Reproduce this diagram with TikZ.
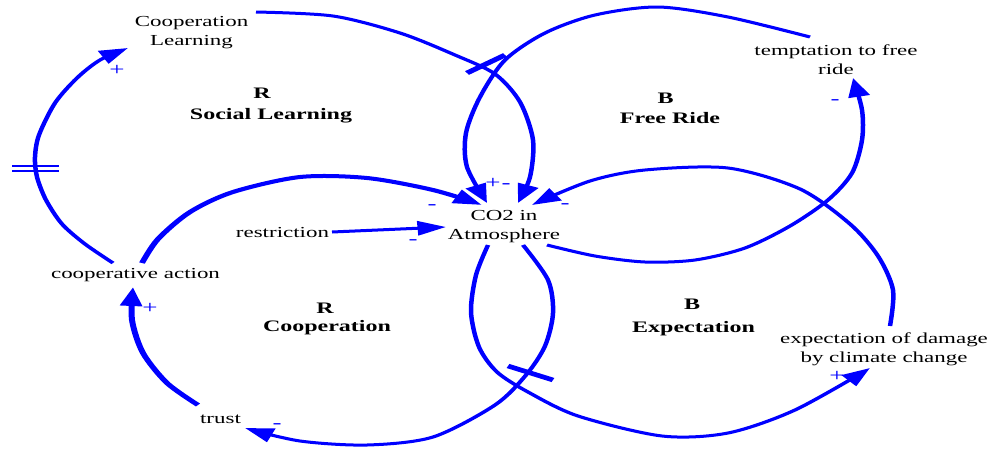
\documentclass[tikz,border=0pt]{standalone}
\usepackage{fontspec}
\setmainfont{Liberation Serif}
\usetikzlibrary{arrows.meta,calc}
\definecolor{vblue}{RGB}{0,0,255}
\tikzset{
  link/.style={draw=vblue, line width=3pt},
  thicklink/.style={draw=vblue, line width=4pt},
  arr/.style={-{Triangle[length=19pt,width=14pt]}},
  txt/.style={font=\fontsize{15.3}{19}\selectfont, text=black, inner sep=0pt},
  txtml/.style={txt, align=center},
  loopl/.style={font=\bfseries\fontsize{16}{20}\selectfont, text=black, inner sep=0pt, anchor=base},
  pol/.style={font=\fontsize{18}{20}\selectfont, text=vblue, inner sep=0pt},
  delaybar/.style={draw=vblue, line width=4.5pt},
  dbar/.style={draw=vblue, line width=2.3pt},
}
\begin{document}
\begin{tikzpicture}
\useasboundingbox (0,0) rectangle (995pt,-453pt);
\begin{scope}[transform canvas={xscale=1.5}, x=0.666667pt, y=-1pt]
% variables
\node[txtml] (cl) at (191.5,33) {Cooperation\\Learning};
\node[txtml] (tf) at (836,59.3) {temptation to free\\ride};
\node[txtml] (co2) at (504,227) {CO2 in\\Atmosphere};
\node[txt, anchor=base] (re) at (282.5,237) {restriction};
\node[txt, anchor=base] (ca) at (135.5,278) {cooperative action};
\node[txt, anchor=base] (tr) at (220.5,423) {trust};
\node[txtml] (ed) at (884,349) {expectation of damage\\by climate change};
% loop labels
\node[loopl] (slR) at (262,98) {R};
\node[loopl] (sl) at (271,119) {Social Learning};
\node[loopl] (frB) at (665.5,103) {B};
\node[loopl] (fr) at (670,123) {Free Ride};
\node[loopl] (coR) at (325,313) {R};
\node[loopl] (co) at (327,331) {Cooperation};
\node[loopl] (exB) at (692,309) {B};
\node[loopl] (ex) at (693.5,332) {Expectation};
% connector ends
\coordinate (c1s) at ($(ca.base)+(-22.5,-15)$);
\coordinate (c1e) at ($(cl.center)+(-63.5,15)$);
\coordinate (c2s) at ($(cl.center)+(64.5,-21)$);
\coordinate (c2e) at ($(co2.center)+(14,-24)$);
\coordinate (c3s) at ($(tf.center)+(-26,-22.3)$);
\coordinate (c3e) at ($(co2.center)+(-17,-24)$);
\coordinate (c4s) at ($(co2.center)+(43,18)$);
\coordinate (c4e) at ($(tf.center)+(17,18.7)$);
\coordinate (c5s) at ($(ed.center)+(6,-23)$);
\coordinate (c5e) at ($(co2.center)+(28,-22)$);
\coordinate (c6s) at ($(co2.center)+(-16,18)$);
\coordinate (c6e) at ($(ed.center)+(-14,19)$);
\coordinate (c7s) at ($(co2.center)+(19,18)$);
\coordinate (c7e) at ($(tr.base)+(24.5,5)$);
\coordinate (c8s) at ($(tr.base)+(-22.5,-18)$);
\coordinate (c8e) at ($(ca.base)+(-2.5,9)$);
\coordinate (c9s) at ($(ca.base)+(6.5,-15)$);
\coordinate (c9e) at ($(co2.center)+(-22,-22)$);
\coordinate (c10s) at ($(re.base)+(49.5,-5)$);
\coordinate (c10e) at ($(co2.center)+(-58,0)$);
% connectors
\draw[link,arr] plot[smooth] coordinates {(c1s) (85,244) (62,224) (46,200) (37,177) (35,157) (39,135) (55,103) (77,78) (100,60) (c1e)};
\draw[link,arr] plot[smooth] coordinates {(c2s) (333,16) (400,33) (455,55) (495,74) (520,102) (533,140) (530,177) (c2e)};
\draw[link,arr] plot[smooth] coordinates {(c3s) (728,17) (658,7) (595,15) (545,33) (505,60) (480,97) (466,133) (467,167) (c3e)};
\draw[link,arr] plot[smooth] coordinates {(c4s) (595,256) (645,262) (695,260) (745,248) (790,226) (828,200) (852,173) (862,140) (862,110) (c4e)};
\draw[link,arr] plot[smooth] coordinates {(c5s) (893,290) (878,256) (850,224) (800,189) (728,168) (645,170) (590,181) (c5e)};
\draw[link,arr] plot[smooth] coordinates {(c6s) (476,275) (471,312) (479,347) (497,372) (528,392) (578,416) (662,436) (728,433) (795,410) (c6e)};
\draw[link,arr] plot[smooth] coordinates {(c7s) (548,280) (553,313) (545,346) (526,375) (495,405) (433,437) (367,445) (300,441) (c7e)};
\draw[thicklink,arr] plot[smooth] coordinates {(c8s) (167,383) (143,353) (132,320) (c8e)};
\draw[thicklink,arr] plot[smooth] coordinates {(c9s) (158,239) (190,212) (233,192) (300,177) (367,178) (433,190) (c9e)};
\draw[link,arr] (c10s) -- (c10e);
% delay marks
\draw[delaybar] (467,73) -- (505,55);
\draw[delaybar] (508,366) -- (553,380);
\draw[dbar] (12,166.2) -- (59,166.2);
\draw[dbar] (12,171.2) -- (59,171.2);
% polarities
\node[pol] (p1) at (117,70) {+};
\node[pol] (p2) at (493,183) {+};
\node[pol] (p3) at (506,186) {-};
\node[pol] (p4) at (432,207) {-};
\node[pol] (p5) at (413,242) {-};
\node[pol] (p6) at (565,206) {-};
\node[pol] (p7) at (835,102) {-};
\node[pol] (p8) at (837,376) {+};
\node[pol] (p9) at (277,426) {-};
\node[pol] (p10) at (150,308) {+};
\end{scope}
\end{tikzpicture}
\end{document}
